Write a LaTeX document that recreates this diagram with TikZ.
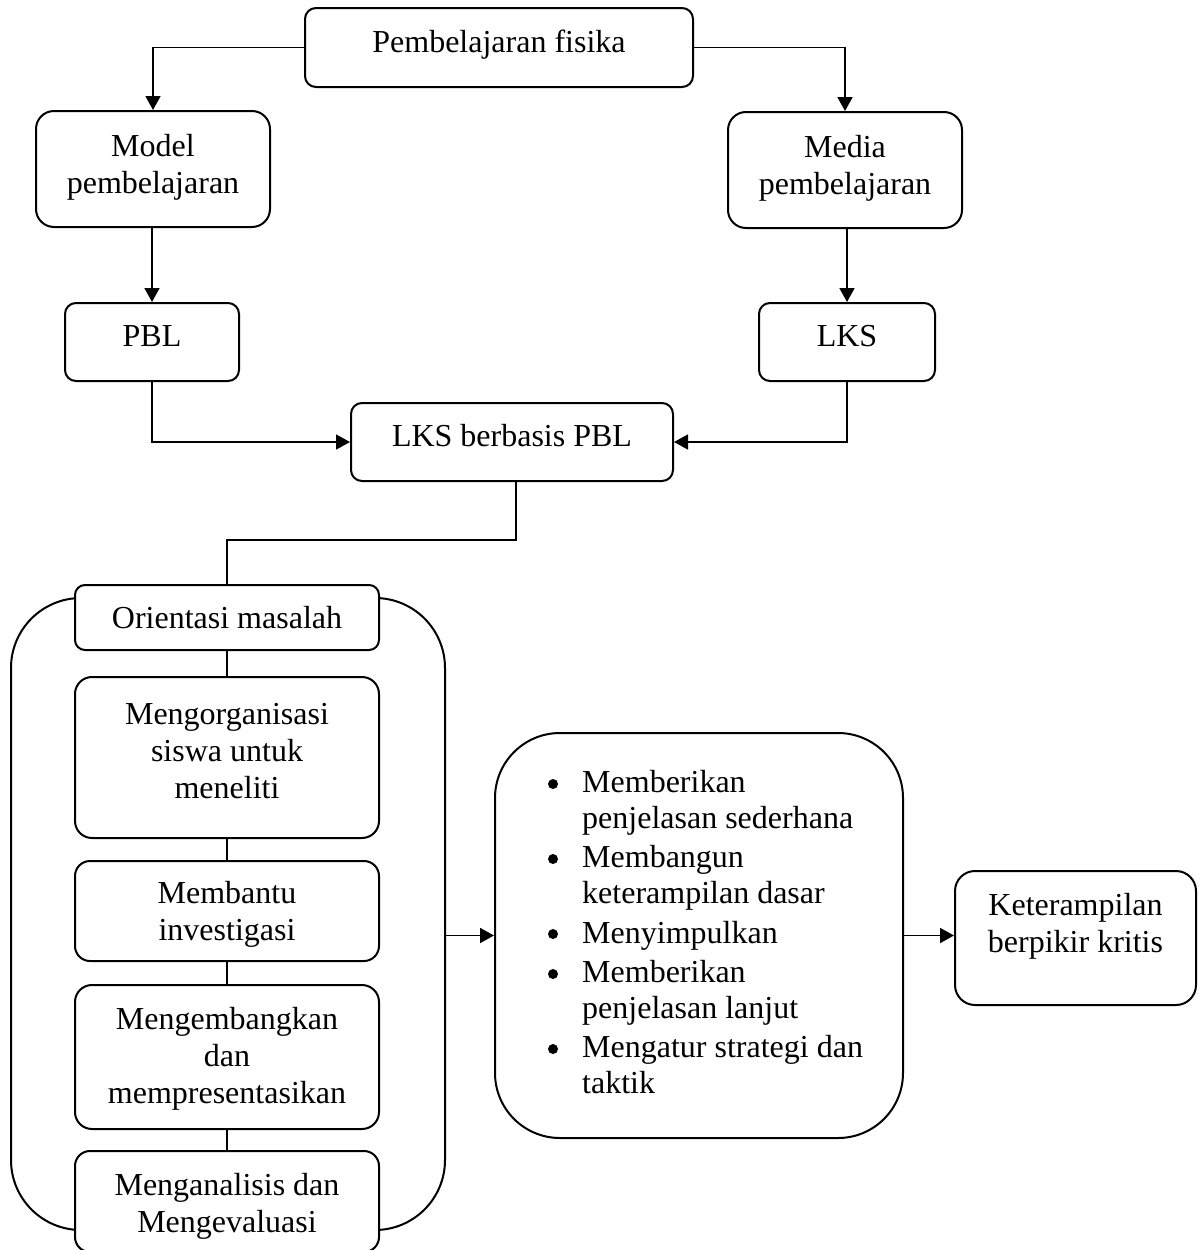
\documentclass[tikz,border=0pt]{standalone}
\usepackage{fontspec}
\setmainfont{Liberation Serif}
\usetikzlibrary{arrows.meta,calc}
\begin{document}
\begin{tikzpicture}[x=1pt,y=-1pt,
  box/.style={draw, line width=2pt, rounded corners=#1, fill=white, inner sep=0pt},
  box/.default=12pt,
  txt/.style={font=\fontsize{32}{37}\selectfont, align=center, anchor=base, inner sep=0pt},
  itm/.style={font=\fontsize{32}{35.5}\selectfont, align=left, anchor=base west, inner sep=0pt},
  dot/.style={circle, fill=black, inner sep=0pt, minimum size=10pt},
  ln/.style={line width=1.8pt},
  arr/.style={line width=1.8pt, -{Triangle[length=14pt,width=15pt]}}]
\useasboundingbox (0,0) rectangle (1200,1250);
% top part
\node[box=11pt, minimum width=388pt, minimum height=79pt] (pf) at (499,47.5) {};
\node[box=18pt, minimum width=234pt, minimum height=116pt] (model) at (153,169) {};
\node[box=18pt, minimum width=234pt, minimum height=116pt] (media) at (845,170) {};
\node[box=11pt, minimum width=174pt, minimum height=78pt] (pbl) at (152,342) {};
\node[box=11pt, minimum width=176pt, minimum height=78pt] (lks) at (847,342) {};
\node[box=11pt, minimum width=322pt, minimum height=78pt] (lksp) at (512,442) {};
\node[txt] (tpf) at (499,52) {Pembelajaran fisika};
\node[txt] (tmodel) at (153,193) {Model\\pembelajaran};
\node[txt] (tmedia) at (845,194) {Media\\pembelajaran};
\node[txt] (tpbl) at (152,346) {PBL};
\node[txt] (tlks) at (847,346) {LKS};
\node[txt] (tlksp) at (512,446) {LKS berbasis PBL};
\draw[arr] (pf.west) -| (model.north);
\draw[arr] (pf.east) -| (media.north);
\draw[arr] (model.south -| pbl.north) -- (pbl.north);
\draw[arr] (media.south -| lks.north) -- (lks.north);
\draw[arr] (pbl.south) |- (lksp.west);
\draw[arr] (lks.south) |- (lksp.east);
% container and steps
\node[box=70pt, minimum width=434pt, minimum height=632pt] (cont) at (228,914) {};
\node[box=10pt, minimum width=304pt, minimum height=65pt] (orient) at (227,617.5) {};
\node[box=17pt, minimum width=304pt, minimum height=161pt] (org) at (227,757.5) {};
\node[box=15pt, minimum width=304pt, minimum height=100pt] (bantu) at (227,911) {};
\node[box=17pt, minimum width=304pt, minimum height=144pt] (kemb) at (227,1057) {};
\node[box=15pt, minimum width=304pt, minimum height=101pt] (anal) at (227,1201.5) {};
\node[txt] (torient) at (227,628) {Orientasi masalah};
\node[txt] (torg) at (227,798) {Mengorganisasi\\siswa untuk\\meneliti};
\node[txt] (tbantu) at (227,940) {Membantu\\investigasi};
\node[txt] (tkemb) at (227,1103) {Mengembangkan\\dan\\mempresentasikan};
\node[txt] (tanal) at (227,1232) {Menganalisis dan\\Mengevaluasi};
\coordinate (bend1) at (516,540);
\draw[ln] ([xshift=4pt]lksp.south) -- (bend1) -| (orient.north);
\draw[ln] (orient.south) -- (org.north);
\draw[ln] (org.south) -- (bantu.north);
\draw[ln] (bantu.south) -- (kemb.north);
\draw[ln] (kemb.south) -- (anal.north);
% indicators
\node[box=65pt, minimum width=408pt, minimum height=405pt] (bul) at (699,935.5) {};
\node[dot] (d1) at (553,784) {};
\node[dot] (d2) at (553,859) {};
\node[dot] (d3) at (553,934) {};
\node[dot] (d4) at (553,974) {};
\node[dot] (d5) at (553,1049) {};
\node[itm] (i1) at (582,828) {Memberikan\\penjelasan sederhana};
\node[itm] (i2) at (582,903) {Membangun\\keterampilan dasar};
\node[itm] (i3) at (582,943) {Menyimpulkan};
\node[itm] (i4) at (582,1018) {Memberikan\\penjelasan lanjut};
\node[itm] (i5) at (582,1093) {Mengatur strategi dan\\taktik};
\node[box=20pt, minimum width=241pt, minimum height=134pt] (ket) at (1075.5,938) {};
\node[txt] (tket) at (1075.5,952) {Keterampilan\\berpikir kritis};
\draw[arr] (cont.east |- bul.west) -- (bul.west);
\draw[arr] (bul.east) -- (bul.east -| ket.west);
\end{tikzpicture}
\end{document}
